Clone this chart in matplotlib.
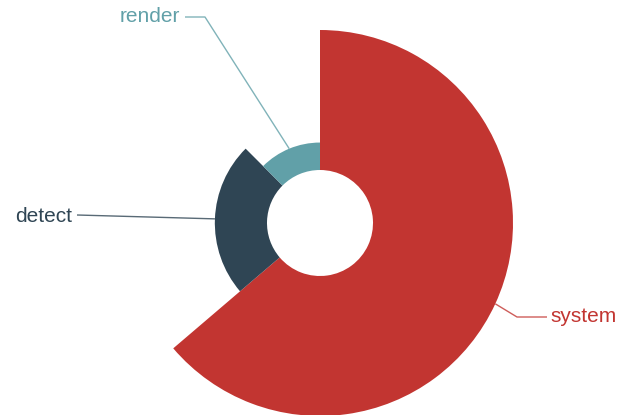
import numpy as np
import matplotlib
matplotlib.use("Agg")
import matplotlib.pyplot as plt
from matplotlib.patches import Wedge

# rose chart: slice angle and outer radius both follow the value
names = ["system", "detect", "render"]
values = [51, 19, 10]
colors = ["#c23531", "#2f4554", "#61a0a8"]

# label layout in pixel offsets from the centre (y up): elbow point, text anchor
label_elbow = {"system": (197, -94), "detect": (-243, 8), "render": (-115, 206)}
label_end = {"system": (227, -94), "detect": (-243, 8), "render": (-135, 206)}
label_text = {"system": (230, -94, "left"), "detect": (-248, 6, "right"),
              "render": (-140, 206, "right")}

r_in = 53
r_out = 193

fig = plt.figure(figsize=(6.2, 4.15), dpi=100)
ax = fig.add_axes([0, 0, 1, 1])
ax.set_xlim(-320, 300)
ax.set_ylim(-192, 223)
ax.set_aspect("equal")
ax.axis("off")

total = float(sum(values))
vmax = max(values)
start = 0.0  # clockwise degrees from 12 o'clock
for name, v, c in zip(names, values, colors):
    span = 360.0 * v / total
    r = r_in + (r_out - r_in) * v / vmax
    ax.add_patch(Wedge((0, 0), r, 90 - (start + span), 90 - start,
                       width=r - r_in, facecolor=c, edgecolor="none"))

    mid = np.radians(start + span / 2)
    ex, ey = r * np.sin(mid), r * np.cos(mid)
    bx, by = label_elbow[name]
    tx, ty = label_end[name]
    ax.plot([ex, bx, tx], [ey, by, ty], color=c, lw=1, alpha=0.8,
            solid_capstyle="butt")
    lx, ly, ha = label_text[name]
    ax.text(lx, ly, name, color=c, fontsize=15, family="Liberation Sans",
            ha=ha, va="center")
    start += span

fig.savefig("out.png", dpi=100, facecolor="white")
